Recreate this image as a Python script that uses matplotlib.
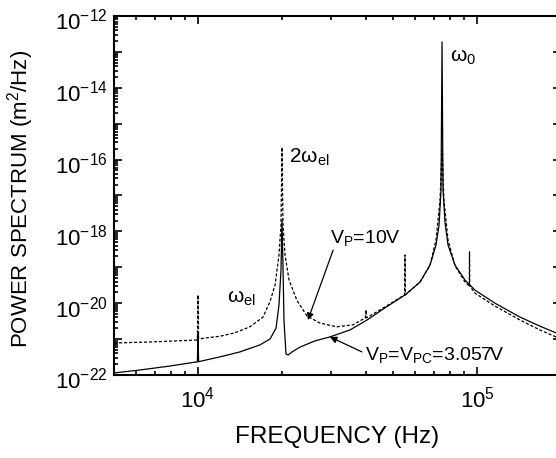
import numpy as np
import matplotlib
matplotlib.use("Agg")
import matplotlib.pyplot as plt
import matplotlib.transforms as mtransforms
from matplotlib.ticker import LogLocator, FuncFormatter, NullFormatter

plt.rcParams["font.family"] = ["Liberation Sans", "DejaVu Sans"]
plt.rcParams["mathtext.fontset"] = "custom"
plt.rcParams["mathtext.rm"] = "Liberation Sans"
plt.rcParams["mathtext.it"] = "Liberation Sans:italic"
plt.rcParams["mathtext.default"] = "regular"

# V_P = V_PC = 3.057 V (solid)
f_solid = [5000, 6200, 7940, 9830, 9950, 10000, 10050, 11990, 14140, 16670,
           18110, 19040, 19510, 19840, 20000, 20170, 20330, 20670, 21020, 21730,
           23210, 26240, 29700, 35060, 40330, 46800, 55200, 62500, 67850, 71300,
           73100, 74300, 74930, 75550, 76800, 78700, 83400, 90600, 98400, 116000,
           142600, 168000, 200000]
p_solid = [1.14e-22, 1.38e-22, 1.78e-22, 2.3e-22, 2.3e-22, 1.4e-21, 2.35e-22, 3.2e-22, 4.4e-22, 6.9e-22,
           1.0e-21, 2.0e-21, 8.9e-21, 8.4e-20, 2.1e-18, 1.0e-19, 3.4e-21, 3.85e-22, 3.6e-22, 4.4e-22,
           6.0e-22, 8.9e-22, 1.15e-21, 1.8e-21, 3.4e-21, 7.4e-21, 1.7e-20, 3.9e-20, 1.15e-19, 4.2e-19,
           1.5e-18, 1.4e-17, 1.9e-13, 1.4e-17, 1.8e-18, 4.2e-19, 1.15e-19, 4.4e-20, 2.3e-20, 1.0e-20,
           4.1e-21, 2.3e-21, 1.3e-21]

# V_P = 10 V (dashed)
f_dash = [5000, 6730, 9830, 9950, 10000, 10050, 10590, 11990, 13570, 15350,
          17100, 18110, 18890, 19510, 19840, 20000, 20170, 20510, 21200, 22620,
          24590, 27360, 31480, 35900, 39800, 40000, 40200, 46800, 55000, 55200,
          55400, 62500, 67850, 71300, 73700, 74930, 76100, 78700, 83400, 90600,
          93800, 94000, 94200, 98400, 116000, 142600, 168000, 200000]
p_dash = [7.8e-22, 8.3e-22, 9.4e-22, 9.4e-22, 1.7e-20, 1.0e-21, 1.07e-21, 1.2e-21, 1.5e-21, 2.2e-21,
          4.1e-21, 1.1e-20, 3.2e-20, 2.2e-19, 1.5e-18, 2.2e-16, 1.5e-18, 2.2e-19, 4.4e-20, 1.2e-20,
          4.4e-21, 2.8e-21, 2.2e-21, 2.5e-21, 3.9e-21, 6.5e-21, 3.9e-21, 7.9e-21, 1.7e-20, 2.2e-19,
          1.7e-20, 3.9e-20, 1.15e-19, 5.8e-19, 7.5e-18, 1.9e-16, 7.5e-18, 5.8e-19, 1.1e-19, 3.9e-20,
          3.0e-20, 2.7e-19, 3.0e-20, 1.9e-20, 8.3e-21, 3.4e-21, 1.8e-21, 1.0e-21]

fig = plt.figure(figsize=(5.56, 4.58), dpi=100)
ax = fig.add_axes([114 / 556, 83 / 458, 447 / 556, 359 / 458])

ax.plot(f_solid, p_solid, color="black", lw=0.9)
ax.plot(f_dash, p_dash, color="black", lw=0.9, linestyle=(0, (2.5, 1.5)))

ax.set_xscale("log")
ax.set_yscale("log")
ax.set_xlim(5000, 2e5)
ax.set_ylim(1e-22, 1e-12)

ax.yaxis.set_major_locator(LogLocator(base=10, numticks=30))
ax.yaxis.set_minor_locator(LogLocator(base=10, subs=np.arange(2, 10), numticks=200))
ax.yaxis.set_minor_formatter(NullFormatter())


def ylab(v, pos):
    e = int(round(np.log10(v)))
    return r"$10^{%d}$" % e if e % 2 == 0 else ""


ax.yaxis.set_major_formatter(FuncFormatter(ylab))
ax.xaxis.set_minor_locator(LogLocator(base=10, subs=np.arange(2, 10), numticks=50))
ax.xaxis.set_minor_formatter(NullFormatter())

ax.tick_params(which="both", direction="in", top=True, right=True, labelsize=16, width=1.2)
ax.tick_params(which="major", length=5.5)
ax.tick_params(which="minor", length=2.8)
ax.tick_params(axis="x", which="major", pad=8)
ax.tick_params(axis="y", which="major", pad=4.5)
for s in ax.spines.values():
    s.set_linewidth(1.5)

ax.set_xlabel("FREQUENCY (Hz)", fontsize=17.5, va="top")
ax.xaxis.set_label_coords(0.498, -0.142)
ax.set_ylabel("POWER SPECTRUM (m$^2$/Hz)", fontsize=16)
ax.yaxis.set_label_coords(-0.1745, 0.49)

ax.text(80000, 5.2e-14, "ω$_0$", fontsize=15)
ax.text(21200, 8.1e-17, "2ω$_{el}$", fontsize=15)
ax.text(12700, 1.0e-20, "ω$_{el}$", fontsize=15)
ax.text(29700, 4.8e-19, "V$_P$=10V", fontsize=14)
ax.text(39700, 2.6e-22, "V$_P$=V$_{PC}$=3.057V", fontsize=14)

arrow = dict(arrowstyle="-|>", color="black", lw=0.9, mutation_scale=10, shrinkA=0, shrinkB=0)
ax.annotate("", xy=(24770, 3.4e-21), xytext=(30500, 3.0e-19), arrowprops=arrow)
ax.annotate("", xy=(29700, 1.15e-21), xytext=(38700, 4.4e-22), arrowprops=arrow)

# y tick labels sit a couple of pixels lower in the original
fig.canvas.draw()
shift = mtransforms.ScaledTranslation(0, -2.5 / 72, fig.dpi_scale_trans)
for t in ax.yaxis.get_major_ticks():
    t.label1.set_transform(t.label1.get_transform() + shift)

fig.savefig("out.png", dpi=100)
